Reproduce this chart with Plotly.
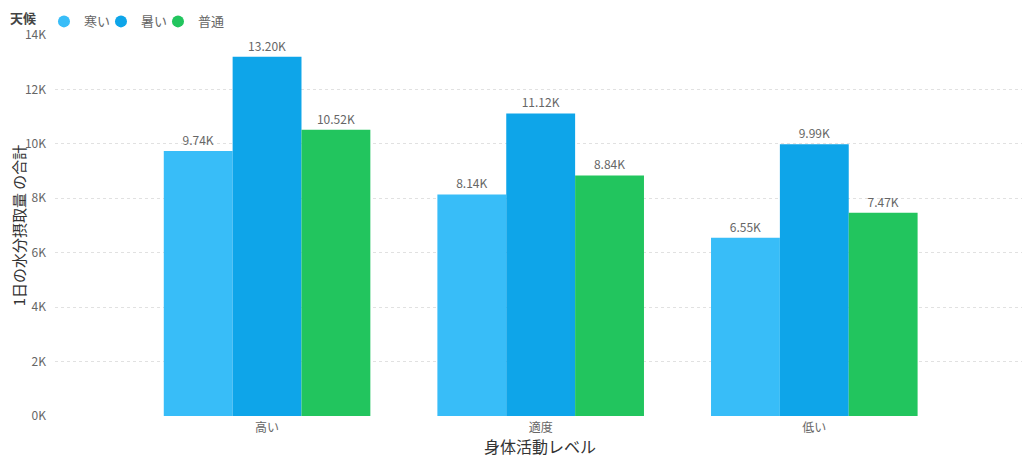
import plotly.graph_objects as go

categories = ["高い", "適度", "低い"]
series_names = ["寒い", "暑い", "普通"]
cold = [9740, 8140, 6550]
hot = [13200, 11120, 9990]
normal = [10520, 8840, 7470]
tick_vals = [0, 2000, 4000, 6000, 8000, 10000, 12000, 14000]
tick_text = ["0K", "2K", "4K", "6K", "8K", "10K", "12K", "14K"]

colors = ["#38BDF8", "#0EA5E9", "#22C55E"]
FONT = "Segoe UI, Noto Sans CJK JP, sans-serif"

fig = go.Figure()
for name, vals, col in zip(series_names, [cold, hot, normal], colors):
    fig.add_trace(go.Bar(
        x=categories, y=vals, name=name, marker_color=col,
        marker_line_width=0,
        text=[f"{v/1000:.2f}K" for v in vals],
        textposition="outside", cliponaxis=False,
        textfont=dict(size=12, color="#666666", family=FONT),
        showlegend=False, legendgroup=name,
    ))
    fig.add_trace(go.Scatter(
        x=[None], y=[None], mode="markers", name=name, legendgroup=name,
        marker=dict(symbol="circle", size=12, color=col),
        showlegend=True,
    ))
# spacer entry so the last legend label is not clipped
fig.add_trace(go.Scatter(
    x=[None], y=[None], mode="markers", name=" ",
    marker=dict(size=1, color="rgba(0,0,0,0)"), showlegend=True, hoverinfo="skip",
))

fig.update_layout(
    width=1022, height=450,
    margin=dict(l=47, r=5, t=27, b=42, autoexpand=False),
    paper_bgcolor="white", plot_bgcolor="white",
    font=dict(family=FONT, color="#666666", size=12),
    barmode="group", bargap=0.245, bargroupgap=0,
    legend=dict(
        orientation="h",
        x=-0.0485, xanchor="left", y=1.075, yanchor="top",
        title=dict(text="<b>天候</b>", font=dict(size=13, color="#444444", family=FONT)),
        font=dict(size=13, color="#666666", family=FONT),
        itemwidth=30, tracegroupgap=0, itemsizing="constant",
        entrywidth=12, entrywidthmode="pixels",
        bgcolor="rgba(0,0,0,0)",
    ),
    uniformtext=dict(minsize=8, mode="show"),
)
fig.update_xaxes(
    range=[-0.775, 2.77], showgrid=False, showline=False, zeroline=False,
    automargin=False,
    tickfont=dict(size=12, color="#666666", family=FONT),
    title=dict(text="身体活動レベル", font=dict(size=16, color="#333333", family=FONT), standoff=2),
    ticks="", ticklabelstandoff=3,
)
fig.update_yaxes(
    range=[0, 14000], tickvals=tick_vals, ticktext=tick_text,
    showgrid=True, gridcolor="#E1E1E1", griddash="dot", gridwidth=1,
    zeroline=False, showline=False, automargin=False,
    tickfont=dict(size=12, color="#666666", family=FONT),
    title=dict(text="1日の水分摂取量 の合計", font=dict(size=15, color="#333333", family=FONT), standoff=22),
    ticks="", ticklabelstandoff=8,
)

fig.write_html("out.html")
